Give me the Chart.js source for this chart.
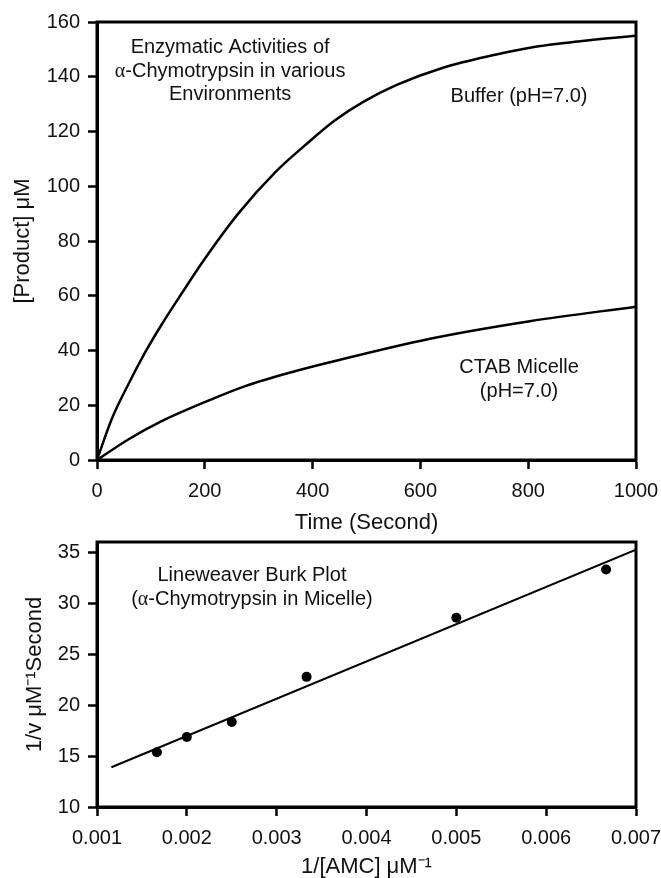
<!DOCTYPE html>
<html><head><meta charset="utf-8">
<script src="https://cdn.jsdelivr.net/npm/chart.js@4/dist/chart.umd.min.js"></script>
<style>
html,body{margin:0;padding:0;background:#fff;}
#wrap{position:relative;width:661px;height:878px;overflow:hidden;background:#fff;}
canvas{position:absolute;left:0;}
#c1{top:0;}
#c2{top:530px;}
</style></head><body>
<div id="wrap"><canvas id="c1" width="661" height="540" style="width:661px;height:540px"></canvas><canvas id="c2" width="661" height="350" style="width:661px;height:350px"></canvas></div>
<script>
// ---- Top chart data ----
const timeBuffer = [0, 27, 58, 89, 120, 157, 200, 262, 330, 392, 441, 494, 556, 642, 741, 803, 896, 1000];
const productBuffer = [0, 14.8, 27.6, 39.2, 49.5, 60.8, 73.5, 90, 105, 116, 124, 130.8, 137.0, 143.3, 148.1, 150.6, 153, 155];
const timeCtab = [0, 58, 120, 219, 275, 367, 432, 618, 803, 1000];
const productCtab = [0, 7.5, 14.2, 22.7, 27, 32.4, 35.7, 44.3, 50.7, 56];
const topXTicks = [0, 200, 400, 600, 800, 1000];
const topYTicks = [0, 20, 40, 60, 80, 100, 120, 140, 160];
const topTitleLines = ['Enzymatic Activities of', 'α-Chymotrypsin in various', 'Environments'];
const bufferLabel = ['Buffer (pH=7.0)'];
const ctabLabel = ['CTAB Micelle', '(pH=7.0)'];

// ---- Bottom chart data ----
const invAMC = [0.001667, 0.002, 0.0025, 0.003333, 0.005, 0.006667];
const invV = [15.37, 16.87, 18.34, 22.77, 28.57, 33.31];
const fitX = [0.00116, 0.007];
const fitY = [13.9, 35.25];
const bottomXTicks = [0.001, 0.002, 0.003, 0.004, 0.005, 0.006, 0.007];
const bottomYTicks = [10, 15, 20, 25, 30, 35];
const bottomTitleLines = ['Lineweaver Burk Plot', '(α-Chymotrypsin in Micelle)'];

const SANS = '"Liberation Sans", Arial, Helvetica, sans-serif';
const SERIF = '"Liberation Serif", "Times New Roman", serif';
const TXT = '#111';
const FS = 20;
const TFS = 22;

function runs(str){
  const out=[];
  for (const ch of str){
    const g=/[αμ]/.test(ch);
    if(out.length && out[out.length-1].g===g) out[out.length-1].t+=ch; else out.push({t:ch,g});
  }
  return out;
}
function drawMixed(ctx, str, cx, cy, size){
  const rs = runs(str);
  let w=0;
  rs.forEach(r=>{ctx.font = size+'px '+(r.g?SERIF:SANS); r.w=ctx.measureText(r.t).width; w+=r.w;});
  let x=cx-w/2;
  ctx.textBaseline='middle'; ctx.textAlign='left'; ctx.fillStyle=TXT;
  rs.forEach(r=>{ctx.font = size+'px '+(r.g?SERIF:SANS); ctx.fillText(r.t,x,cy); x+=r.w;});
}

const framePlugin = {
  id:'frame',
  afterDatasetsDraw(chart){
    const {ctx, chartArea:a} = chart;
    ctx.save(); ctx.strokeStyle='#000'; ctx.lineWidth=3;
    ctx.strokeRect(a.left, a.top, a.right-a.left, a.bottom-a.top);
    ctx.restore();
  }
};
function notesPlugin(notes){
  return {
    id:'notes',
    afterDatasetsDraw(chart){
      const ctx=chart.ctx, sx=chart.scales.x, sy=chart.scales.y;
      ctx.save();
      notes.forEach(n=>{
        n.lines.forEach((line,i)=>{
          drawMixed(ctx, line, sx.getPixelForValue(n.x), sy.getPixelForValue(n.y[i]), FS);
        });
      });
      ctx.restore();
    }
  };
}

function axisCommon(){
  return {
    grid:{display:true, drawOnChartArea:false, drawTicks:true, tickLength:9, tickWidth:2.5, tickColor:'#000'},
    border:{display:true, color:'#000', width:3}
  };
}
function fixX(h){ return s => { s.height = h; s.paddingLeft = 0; s.paddingRight = 0; }; }
function fixY(w){ return s => { s.width = w; s.paddingTop = 0; s.paddingBottom = 0; }; }
const tickFont = {size:FS, family:SANS};

// ---- Top chart ----
new Chart(document.getElementById('c1'), {
  type:'line',
  data:{datasets:[
    {label:'Buffer (pH=7.0)', data: timeBuffer.map((t,i)=>({x:t, y:productBuffer[i]})),
     borderColor:'#000', borderWidth:2.5, pointRadius:0, cubicInterpolationMode:'monotone', fill:false},
    {label:'CTAB Micelle (pH=7.0)', data: timeCtab.map((t,i)=>({x:t, y:productCtab[i]})),
     borderColor:'#000', borderWidth:2.5, pointRadius:0, cubicInterpolationMode:'monotone', fill:false}
  ]},
  options:{
    responsive:false, animation:false, devicePixelRatio:1,
    layout:{padding:{top:22, right:25, left:0, bottom:0}},
    plugins:{legend:{display:false}, tooltip:{enabled:false}},
    scales:{
      x:{type:'linear', min:0, max:1000, ...axisCommon(),
         afterBuildTicks(s){ s.ticks = topXTicks.map(v=>({value:v})); },
         ticks:{color:TXT, font:tickFont, padding:10, maxRotation:0, autoSkip:false, callback:v=>String(v)},
         title:{display:true, text:'Time (Second)', color:TXT, font:{size:TFS, family:SANS}, padding:{top:0, bottom:4}},
         afterFit: fixX(80)},
      y:{type:'linear', min:0, max:160, ...axisCommon(),
         afterBuildTicks(s){ s.ticks = topYTicks.map(v=>({value:v})); },
         ticks:{color:TXT, font:tickFont, padding:8, autoSkip:false, callback:v=>String(v)},
         title:{display:true, text:'[Product] μM', color:TXT, font:{size:TFS, family:SANS}, padding:{top:10, bottom:0}},
         afterFit: fixY(97)}
    }
  },
  plugins:[framePlugin, notesPlugin([
    {x:247, y:[150.7, 142.0, 133.5], lines:topTitleLines},
    {x:783, y:[132.8], lines:bufferLabel},
    {x:783, y:[33.8, 25.0], lines:ctabLabel}
  ])]
});

// ---- Bottom chart ----
new Chart(document.getElementById('c2'), {
  type:'scatter',
  data:{datasets:[
    {label:'Data', data: invAMC.map((v,i)=>({x:v, y:invV[i]})), showLine:false,
     pointRadius:5, pointBackgroundColor:'#000', pointBorderColor:'#000', pointBorderWidth:0},
    {label:'Fit', data: fitX.map((v,i)=>({x:v, y:fitY[i]})), showLine:true,
     borderColor:'#000', borderWidth:2, pointRadius:0}
  ]},
  options:{
    responsive:false, animation:false, devicePixelRatio:1,
    layout:{padding:{top:12, right:25, left:0, bottom:0}},
    plugins:{legend:{display:false}, tooltip:{enabled:false}},
    scales:{
      x:{type:'linear', min:0.001, max:0.007, ...axisCommon(),
         afterBuildTicks(s){ s.ticks = bottomXTicks.map(v=>({value:v})); },
         ticks:{color:TXT, font:tickFont, padding:10, maxRotation:0, autoSkip:false, callback:v=>Number(v).toFixed(3)},
         title:{display:true, text:'1/[AMC] μM⁻¹', color:TXT, font:{size:TFS, family:SANS}, padding:{top:0, bottom:0}},
         afterFit: fixX(73)},
      y:{type:'linear', min:10, max:36, ...axisCommon(),
         afterBuildTicks(s){ s.ticks = bottomYTicks.map(v=>({value:v})); },
         ticks:{color:TXT, font:tickFont, padding:8, autoSkip:false, callback:v=>String(v)},
         title:{display:true, text:'1/v μM⁻¹Second', color:TXT, font:{size:TFS, family:SANS}, padding:{top:22, bottom:0}},
         afterFit: fixY(97)}
    }
  },
  plugins:[framePlugin, notesPlugin([
    {x:0.002725, y:[32.7, 30.35], lines:bottomTitleLines}
  ])]
});
</script>
</body></html>
